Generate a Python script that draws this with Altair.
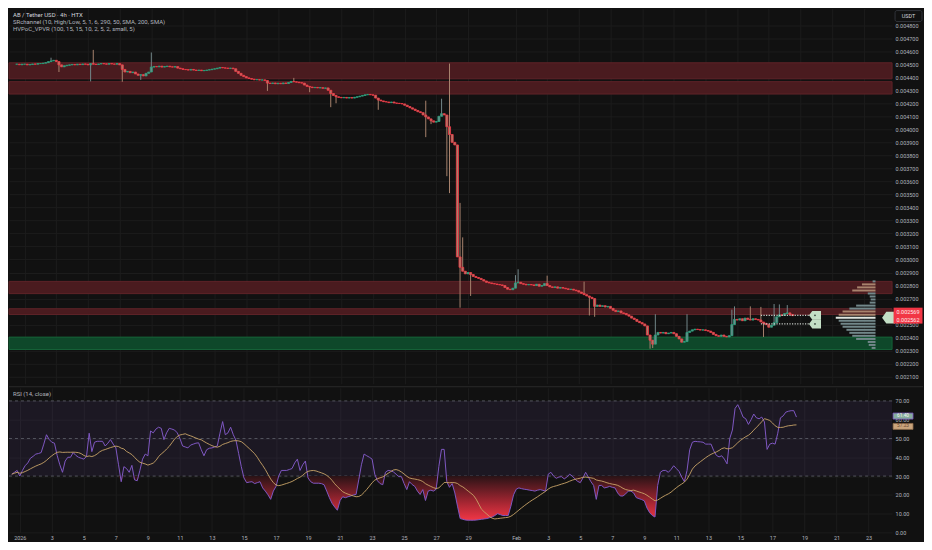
import altair as alt
import numpy as np
import pandas as pd

# ---------------- texts ----------------
legend_line1 = "AB / Tether USD · 4h · HTX"
legend_line2 = "SRchannel (10, High/Low, 5, 1, 6, 290, 50, SMA, 200, SMA)"
legend_line3 = "HVPoC_VPVR (100, 15, 15, 10, 2, 5, 2, small, 5)"
rsi_title = "RSI (14, close)"
currency = "USDT"
price_label_second = "0.002562"

first_candle = "2025-12-31T12:00:00Z"   # 4h candles from here

# ---------------- 4h closes (units of 1e-6 USDT) ----------------
close_dec31_jan07 = [
    4500, 4496, 4500,
    4500, 4495, 4498, 4502, 4500, 4505,
    4505, 4508, 4512, 4520, 4525, 4530,
    4520, 4495, 4480, 4488, 4492, 4495,
    4498, 4495, 4500, 4497, 4502, 4500,
    4495, 4505, 4500, 4498, 4502, 4505,
    4503, 4500, 4505, 4502, 4500, 4505,
    4495, 4460, 4440, 4445, 4435, 4440]
close_jan08_14 = [
    4425, 4415, 4420, 4410, 4430, 4440,
    4478, 4482, 4480, 4485, 4478, 4482,
    4485, 4480, 4478, 4482, 4470, 4465,
    4460, 4458, 4455, 4460, 4455, 4452,
    4455, 4450, 4452, 4455, 4458, 4462,
    4465, 4470, 4475, 4472, 4470, 4468,
    4470, 4465, 4445, 4430, 4415, 4405]
close_jan15_21 = [
    4395, 4390, 4385, 4380, 4382, 4378,
    4380, 4375, 4355, 4352, 4356, 4350,
    4354, 4350, 4356, 4352, 4360, 4368,
    4365, 4362, 4358, 4355, 4340, 4330,
    4325, 4320, 4322, 4318, 4320, 4315,
    4318, 4300, 4275, 4260, 4250, 4245,
    4242, 4245, 4240, 4244, 4240, 4246]
close_jan22_28 = [
    4250, 4255, 4260, 4265, 4268, 4265,
    4262, 4240, 4225, 4218, 4212, 4210,
    4205, 4210, 4202, 4200, 4198, 4195,
    4185, 4175, 4165, 4155, 4145, 4135,
    4128, 4110, 4095, 4080, 4065, 4055,
    4060, 4100, 4120, 4110, 4020, 3960,
    3900, 3880, 3020, 2940, 2910, 2890]
close_jan29_feb04 = [
    2900, 2885, 2870, 2862, 2855, 2845,
    2835, 2825, 2820, 2815, 2812, 2808,
    2805, 2800, 2785, 2772, 2768, 2780,
    2820, 2825, 2815, 2810, 2805, 2808,
    2805, 2800, 2810, 2795, 2800, 2815,
    2800, 2790, 2785, 2790, 2780, 2785,
    2780, 2775, 2770, 2772, 2765, 2760]
close_feb05_11 = [
    2750, 2740, 2730, 2720, 2710, 2700,
    2640, 2650, 2640, 2645, 2635, 2640,
    2625, 2610, 2600, 2605, 2590, 2585,
    2575, 2565, 2550, 2540, 2525, 2515,
    2505, 2490, 2420, 2380, 2350, 2420,
    2440, 2435, 2440, 2430, 2435, 2440,
    2430, 2410, 2390, 2365, 2370, 2440]
close_feb12_18 = [
    2450, 2460, 2465, 2462, 2458, 2460,
    2455, 2450, 2440, 2425, 2415, 2410,
    2420, 2410, 2405, 2415, 2500, 2540,
    2535, 2545, 2530, 2550, 2540, 2535,
    2545, 2540, 2535, 2520, 2510, 2500,
    2480, 2495, 2515, 2560, 2575, 2570,
    2585, 2590, 2578, 2569]

# notable wicks (0 = none)
wick_time = ["2026-01-02T16:00", "2026-01-03T04:00", "2026-01-05T04:00", "2026-01-05T08:00",
             "2026-01-07T04:00", "2026-01-08T08:00", "2026-01-09T00:00", "2026-01-16T08:00",
             "2026-01-18T00:00", "2026-01-19T00:00", "2026-01-20T08:00", "2026-01-20T16:00",
             "2026-01-23T08:00", "2026-01-26T08:00", "2026-01-26T16:00", "2026-01-27T08:00",
             "2026-01-27T16:00", "2026-01-27T20:00", "2026-01-28T12:00", "2026-01-28T16:00",
             "2026-01-29T04:00", "2026-02-01T00:00", "2026-02-01T04:00", "2026-02-03T00:00",
             "2026-02-05T08:00", "2026-02-05T16:00", "2026-02-06T00:00", "2026-02-09T12:00",
             "2026-02-09T16:00", "2026-02-09T20:00", "2026-02-11T20:00", "2026-02-14T16:00",
             "2026-02-14T20:00", "2026-02-15T20:00", "2026-02-16T12:00", "2026-02-16T16:00",
             "2026-02-17T08:00", "2026-02-17T16:00", "2026-02-18T04:00"]
wick_high = [4550, 0, 0, 4610, 0, 0, 4590, 0, 4395, 0, 0, 0, 0, 4220, 0, 4235, 0, 4505, 3435, 3170,
             0, 2880, 2925, 2876, 2830, 0, 0, 0, 0, 2580, 2580, 2615, 2640, 2640, 2636, 0, 2658, 2655, 2650]
wick_low = [0, 4440, 4368, 0, 4365, 4380, 0, 4295, 0, 4285, 4170, 4200, 4150, 3940, 4040, 0, 3640, 3510, 2630, 0,
            2720, 0, 0, 0, 0, 2570, 2560, 2315, 2320, 0, 0, 0, 0, 0, 0, 2405, 0, 0, 0]

# ---------------- RSI(14) per 4h candle ----------------
rsi_dec31_jan07 = [
    31, 32, 33,
    30, 33, 35.5, 37, 39.5, 40.5,
    41.7, 42, 42.5, 47, 52, 49.5,
    48, 47.5, 41, 36, 32, 38,
    40, 40, 42.5, 41, 40, 39.5,
    39, 40.5, 52.8, 43, 48, 48.5,
    48.5, 48.5, 46, 47.5, 49.4, 47,
    45, 36, 27, 35, 34, 32]
rsi_jan08_14 = [
    35.7, 28, 27.5, 33, 39, 41.7,
    40.8, 54, 53, 55, 56, 55.4,
    49.4, 53, 55.4, 55, 54.5, 53,
    50, 46, 45.5, 45, 46.5, 47,
    47.5, 47.7, 44, 40.8, 44, 44.8,
    45, 45.5, 46, 52.8, 59, 52,
    53, 56, 52, 49, 42, 35]
rsi_jan15_21 = [
    29, 26.5, 26.8, 27, 26, 26.5,
    27, 23.7, 22, 20, 17.6, 22,
    24.5, 30, 33, 33, 33, 33.5,
    34, 37, 39, 33, 36, 38,
    29, 27, 26.2, 26.2, 26.2, 26,
    25.4, 22, 18.5, 15.5, 13.5, 11.8,
    17, 19, 18.5, 19, 19.4, 20]
rsi_jan22_28 = [
    20.2, 28, 36, 41.7, 40.8, 40,
    39, 31, 27.5, 26, 25.4, 32,
    33, 32.8, 32.2, 31, 29.7, 29.7,
    26, 22.8, 27, 25.5, 24.5, 22,
    20.2, 22.8, 17, 22, 22.5, 22,
    23, 35, 44.2, 44.2, 27, 24,
    26, 21, 14, 7.4, 7, 6.6]
rsi_jan29_feb04 = [
    6.5, 6.5, 6.5, 6.6, 6.8, 7,
    7.2, 7.4, 7.8, 8.2, 9, 10,
    9.5, 9, 9, 9, 14, 20,
    23, 23.7, 23.3, 23, 22.8, 22.5,
    22.3, 22, 22.5, 22.8, 22.4, 22,
    31, 32, 30, 28.8, 29.5, 29.7,
    28.5, 29.5, 31, 30, 28.5, 27.2]
rsi_feb05_11 = [
    26.5, 29, 32, 29.5, 27, 25,
    17.6, 25, 25, 23.7, 24, 24.5,
    24, 23.7, 21, 19.4, 19.4, 20.5,
    22, 22, 21, 18.5, 18, 17.5,
    16.8, 13, 10.5, 9, 8.2, 25,
    32, 33, 33, 32, 33.5, 35.5,
    34, 32.5, 29.5, 27, 33, 44]
rsi_feb12_18 = [
    48, 48.5, 48.3, 48.2, 48, 47,
    47, 47, 43.5, 41, 40.2, 40.8,
    39, 36.5, 50, 54.5, 66, 68,
    65, 61.4, 60.5, 57.5, 60, 63,
    61, 60.5, 61.4, 58.8, 44.2, 47,
    47.5, 47, 52.8, 61, 62, 64,
    64.5, 64.8, 64.8, 61.4]

# ---------------- SR channel zones (1e-6 USDT) ----------------
zone_top = [4511, 4366, 2832, 2622, 2404]
zone_bottom = [4388, 4271, 2738, 2578, 2309]
zone_kind = ["res", "res", "res", "res", "sup"]

# ---------------- visible-range volume profile ----------------
vp_price = [2832, 2809, 2786, 2762, 2739, 2716, 2693, 2669, 2646, 2623, 2600, 2576,
            2553, 2530, 2507, 2483, 2460, 2437, 2414, 2390, 2367, 2344, 2321]
vp_volume = [3, 14, 19, 24, 8, 6, 5, 6, 20, 27, 34, 38, 41, 38, 36, 34, 30, 27, 24, 20, 8, 7, 4]
vp_kind = ["base", "va", "va", "va", "base", "base", "base", "base", "base", "base", "va", "va",
           "poc", "base", "base", "base", "base", "base", "base", "base", "base", "base", "base"]

# HVPoC levels
hv_price = [2571, 2505]
hv_from = "2026-02-16T12:00:00Z"
hv_to = "2026-02-19T13:00:00Z"
hv_tag = "2026-02-19T22:00:00Z"

# axis ticks
price_ticks = [0.0021, 0.0022, 0.0023, 0.0024, 0.0025, 0.0026, 0.0027, 0.0028, 0.0029, 0.0030,
               0.0031, 0.0032, 0.0033, 0.0034, 0.0035, 0.0036, 0.0037, 0.0038, 0.0039, 0.0040,
               0.0041, 0.0042, 0.0043, 0.0044, 0.0045, 0.0046, 0.0047, 0.0048]
rsi_ticks = [0, 10, 20, 30, 40, 50, 60, 70]
rsi_levels = [70, 50, 30]
date_ticks_jan = [1, 3, 5, 7, 9, 11, 13, 15, 17, 19, 21, 23, 25, 27, 29]
date_ticks_feb = [1, 3, 5, 7, 9, 11, 13, 15, 17, 19, 21, 23]

# ---------------- layout / style ----------------
W = 885
H_PRICE = 376
H_RSI = 145
BG = "#111111"
GRID = "#1c1c1c"
LABEL = "#b2b5be"
UP = "#26a17b"
DOWN = "#f23645"
FONT = "Roboto"
AX_FS = 5.5
VP_ANCHOR = pd.Timestamp("2026-02-23T17:45:00Z")
VP_WIDTH = pd.Timedelta(days=2.51)

# ---------------- build tables ----------------
closes = np.array(close_dec31_jan07 + close_jan08_14 + close_jan15_21 + close_jan22_28
                  + close_jan29_feb04 + close_feb05_11 + close_feb12_18, dtype=float)
rsi_all = np.array(rsi_dec31_jan07 + rsi_jan08_14 + rsi_jan15_21 + rsi_jan22_28
                   + rsi_jan29_feb04 + rsi_feb05_11 + rsi_feb12_18, dtype=float)
n = len(closes)
assert len(rsi_all) == n, (len(rsi_all), n)
times = pd.date_range(first_candle, periods=n, freq="4h")
tstr = list(times.strftime("%Y-%m-%dT%H:%M:%SZ"))
opens = np.concatenate([[closes[0]], closes[:-1]])
highs = np.maximum(opens, closes)
lows = np.minimum(opens, closes)
pos = {s: k for k, s in enumerate(tstr)}
for ts, hi, lo in zip(wick_time, wick_high, wick_low):
    k = pos[ts + ":00Z"]
    if hi:
        highs[k] = max(highs[k], hi)
    if lo:
        lows[k] = min(lows[k], lo)

candles = pd.DataFrame({
    "t": tstr, "o": opens / 1e6, "c": closes / 1e6, "h": highs / 1e6, "l": lows / 1e6,
    "dir": np.where(closes >= opens, "up", "down"), "i": np.arange(n)})
rsi_df = pd.DataFrame({"t": tstr, "rsi": rsi_all, "i": np.arange(n)})

zones = pd.DataFrame({"top": np.array(zone_top) / 1e6, "bot": np.array(zone_bottom) / 1e6, "kind": zone_kind})
vol = np.array(vp_volume, dtype=float)
vp_left = [(VP_ANCHOR - VP_WIDTH * (v / vol.max())).strftime("%Y-%m-%dT%H:%M:%SZ") for v in vol]
vp = pd.DataFrame({"p": np.array(vp_price) / 1e6, "vol": vol, "kind": vp_kind,
                   "xl": vp_left, "xr": VP_ANCHOR.strftime("%Y-%m-%dT%H:%M:%SZ")})
hv = pd.DataFrame({"p": np.array(hv_price) / 1e6, "t0": hv_from, "t1": hv_to, "tag": hv_tag})
last = candles.iloc[[-1]].copy()
last["l1"] = [f"{v:.6f}" for v in last["c"]]
last["l2"] = price_label_second

# ---------------- scales / axes ----------------
x_domain = [alt.DateTime(year=2025, month=12, date=31, hours=7, minutes=50, utc=True),
            alt.DateTime(year=2026, month=2, date=24, hours=11, minutes=17, utc=True)]
xscale = alt.Scale(type="utc", domain=x_domain)
x_ticks = ([alt.DateTime(year=2026, month=1, date=d, utc=True) for d in date_ticks_jan]
           + [alt.DateTime(year=2026, month=2, date=d, utc=True) for d in date_ticks_feb])
x_axis_price = alt.Axis(values=x_ticks, labels=False, ticks=False, domain=False, grid=True, title=None)
x_axis_rsi = alt.Axis(values=x_ticks, ticks=False, domain=False, grid=True, title=None,
                      labelPadding=3, labelFontSize=AX_FS, labelOverlap=False, labelFlush=False,
                      labelExpr="utcdate(datum.value) == 1 ? (utcmonth(datum.value) == 0 ? '2026' : 'Feb') : '' + utcdate(datum.value)")
yscale = alt.Scale(domain=[0.002084, 0.004889], nice=False, zero=False)
y_axis_price = alt.Axis(orient="right", values=price_ticks, format=".6f", grid=True, ticks=False,
                        domain=False, title=None, labelPadding=3, labelFontSize=AX_FS,
                        labelOverlap=False, labelFlush=False)
rsi_scale = alt.Scale(domain=[0, 77], nice=False, zero=False)
rsi_axis = alt.Axis(orient="right", values=rsi_ticks, format=".2f", grid=True, ticks=False,
                    domain=False, title=None, labelPadding=3, labelFontSize=AX_FS,
                    labelOverlap=False, labelFlush=False)


def PX(f):
    return alt.X(f"{f}:T", scale=xscale, axis=x_axis_price)


def PY(f):
    return alt.Y(f"{f}:Q", scale=yscale, axis=y_axis_price)


def RX(f):
    return alt.X(f"{f}:T", scale=xscale, axis=x_axis_rsi)


def RY(f):
    return alt.Y(f"{f}:Q", scale=rsi_scale, axis=rsi_axis)


dir_scale = alt.Scale(domain=["up", "down"], range=[UP, DOWN])

tag_path = "M-1,0L-0.45,-0.75L1,-0.75L1,0.75L-0.45,0.75Z"
arrow_path = "M-1,0L-0.35,-0.9L1,-0.9L1,0.9L-0.35,0.9Z"
box_path = "M-1,-0.55L1,-0.55L1,0.55L-1,0.55Z"
small_box = "M-1,-0.3L1,-0.3L1,0.3L-1,0.3Z"

# ---------------- price pane ----------------
zone_res = alt.Chart(zones).transform_filter("datum.kind == 'res'").mark_rect(
    fill="#4a1b1f", stroke="#5f2328", strokeWidth=1).encode(
    y=PY("top"), y2="bot:Q", x=alt.value(0), x2=alt.value(W))
zone_sup = alt.Chart(zones).transform_filter("datum.kind == 'sup'").mark_rect(
    fill="#0e482a", stroke="#166238", strokeWidth=1).encode(
    y=PY("top"), y2="bot:Q", x=alt.value(0), x2=alt.value(W))

vp_bars = alt.Chart(vp).mark_bar(orient="horizontal", size=2).encode(
    x=PX("xl"), x2="xr:T", y=PY("p"),
    color=alt.Color("kind:N", scale=alt.Scale(domain=["base", "va", "poc"],
                                              range=["#72878a", "#a8836d", "#e0e6e0"]), legend=None))

wicks = alt.Chart(candles).mark_rule(strokeWidth=1).encode(
    x=PX("t"), y=PY("l"), y2="h:Q", color=alt.Color("dir:N", scale=dir_scale, legend=None))
bodies = alt.Chart(candles).mark_bar(size=2.1, strokeWidth=0.8, orient="vertical").encode(
    x=PX("t"), y=PY("o"), y2="c:Q",
    color=alt.Color("dir:N", scale=dir_scale, legend=None),
    stroke=alt.Stroke("dir:N", scale=dir_scale, legend=None))

hv_lines = alt.Chart(hv).mark_rule(strokeDash=[1.2, 1.4], strokeWidth=1.3, color="#c9cec9").encode(
    x=PX("t0"), x2="t1:T", y=PY("p"))
hv_tags = alt.Chart(hv).mark_point(shape=tag_path, filled=True, size=144, color="#c4dfc6", opacity=1).encode(
    x=PX("tag"), y=PY("p"))
hv_dots = alt.Chart(hv).mark_point(shape="circle", filled=True, size=3, color="#33423a", opacity=1).encode(
    x=PX("tag"), y=PY("p"))

poc_marker = alt.Chart(vp).transform_filter("datum.kind == 'poc'").mark_point(
    shape=arrow_path, filled=True, size=169, color="#c4dfc6", opacity=1).encode(
    x=alt.value(W - 3.5), y=PY("p"))

price_box = alt.Chart(last).mark_point(shape=box_path, filled=True, size=841, color=DOWN, opacity=1).encode(
    x=alt.value(W + 16), y=PY("c"))
price_t1 = alt.Chart(last).mark_text(fontSize=AX_FS, color="#fde8ea", dy=-4).encode(
    x=alt.value(W + 16), y=PY("c"), text="l1:N")
price_t2 = alt.Chart(last).mark_text(fontSize=AX_FS, color="#fde8ea", dy=4).encode(
    x=alt.value(W + 16), y=PY("c"), text="l2:N")

cur_df = pd.DataFrame({"txt": [currency]})
cur_box = alt.Chart(cur_df).mark_rect(fill=BG, stroke="#3a3d45", strokeWidth=0.8, cornerRadius=2).encode(
    x=alt.value(W + 3), x2=alt.value(W + 30), y=alt.value(2), y2=alt.value(13))
cur_txt = alt.Chart(cur_df).mark_text(fontSize=AX_FS, color="#d1d4dc").encode(
    x=alt.value(W + 16.5), y=alt.value(7.5), text="txt:N")


def legend_text(s, y, color):
    return alt.Chart(pd.DataFrame({"txt": [s]})).mark_text(
        align="left", baseline="middle", fontSize=6, color=color).encode(
        x=alt.value(4), y=alt.value(y), text="txt:N")


price_chart = alt.layer(
    zone_res, zone_sup, vp_bars, wicks, bodies, hv_lines, hv_tags, hv_dots, poc_marker,
    price_box, price_t1, price_t2, cur_box, cur_txt,
    legend_text(legend_line1, 6, "#d1d4dc"),
    legend_text(legend_line2, 13, LABEL),
    legend_text(legend_line3, 20, LABEL),
).properties(width=W, height=H_PRICE)

# ---------------- RSI pane ----------------
band = alt.Chart(pd.DataFrame({"hi": [70], "lo": [30]})).mark_rect(color="#7e57c2", opacity=0.1).encode(
    y=RY("hi"), y2="lo:Q", x=alt.value(0), x2=alt.value(W))
levels = alt.Chart(pd.DataFrame({"lvl": rsi_levels})).mark_rule(
    strokeDash=[3, 3], color="#5f626c", strokeWidth=0.8).encode(
    y=RY("lvl"), x=alt.value(0), x2=alt.value(W))
grad = alt.Gradient(gradient="linear",
                    stops=[alt.GradientStop(color="#2a1316", offset=0),
                           alt.GradientStop(color="#a52632", offset=0.6),
                           alt.GradientStop(color="#f23645", offset=1)],
                    x1=1, x2=1, y1=0, y2=1)
oversold = alt.Chart(rsi_df).transform_calculate(lo="min(datum.rsi, 30)", top="30").mark_area(
    color=grad, interpolate="linear").encode(x=RX("t"), y=RY("lo"), y2="top:Q")
rsi_line = alt.Chart(rsi_df).mark_line(color="#7e57c2", strokeWidth=1).encode(x=RX("t"), y=RY("rsi"))
ma_base = alt.Chart(rsi_df).transform_window(ma="mean(rsi)", frame=[-13, 0], sort=[alt.SortField("i")])
ma_line = ma_base.mark_line(color="#c9a468", strokeWidth=0.9).encode(x=RX("t"), y=RY("ma"))

lbl_base = ma_base.transform_filter(f"datum.i == {n - 1}").transform_calculate(
    lr="format(datum.rsi, '.2f')", lm="format(datum.ma, '.2f')")
rsi_box = lbl_base.mark_point(shape=small_box, filled=True, size=400, fill="#86ad9d",
                              stroke="#7e57c2", strokeWidth=0.8, opacity=1, yOffset=-1).encode(
    x=alt.value(W + 11), y=RY("rsi"))
rsi_txt = lbl_base.mark_text(fontSize=4.8, color="#f2f6f2", yOffset=-1).encode(
    x=alt.value(W + 11), y=RY("rsi"), text="lr:N")
ma_box = lbl_base.mark_point(shape=small_box, filled=True, size=400, fill="#c9a47c",
                             stroke="#8a6a4a", strokeWidth=0.8, opacity=1, yOffset=1.5).encode(
    x=alt.value(W + 11), y=RY("ma"))
ma_txt = lbl_base.mark_text(fontSize=4.8, color="#6a4630", yOffset=1.5).encode(
    x=alt.value(W + 11), y=RY("ma"), text="lm:N")

divider = alt.Chart(pd.DataFrame({"a": [0]})).mark_rule(color="#2a2a2a", strokeWidth=1).encode(
    x=alt.value(0), x2=alt.value(W + 31), y=alt.value(-1))
rsi_head = alt.Chart(pd.DataFrame({"txt": [rsi_title]})).mark_text(
    align="left", baseline="middle", fontSize=6, color=LABEL).encode(
    x=alt.value(4), y=alt.value(6), text="txt:N")

rsi_chart = alt.layer(
    band, levels, oversold, rsi_line, ma_line, rsi_box, rsi_txt, ma_box, ma_txt, divider, rsi_head
).properties(width=W, height=H_RSI)

chart = alt.vconcat(price_chart, rsi_chart, spacing=2).configure(
    background=BG, font=FONT, padding=0
).configure_view(stroke=None).configure_axis(
    labelColor=LABEL, labelFont=FONT, gridColor=GRID, gridWidth=1)

chart.save("out.html", embed_options={"renderer": "svg", "actions": False})
